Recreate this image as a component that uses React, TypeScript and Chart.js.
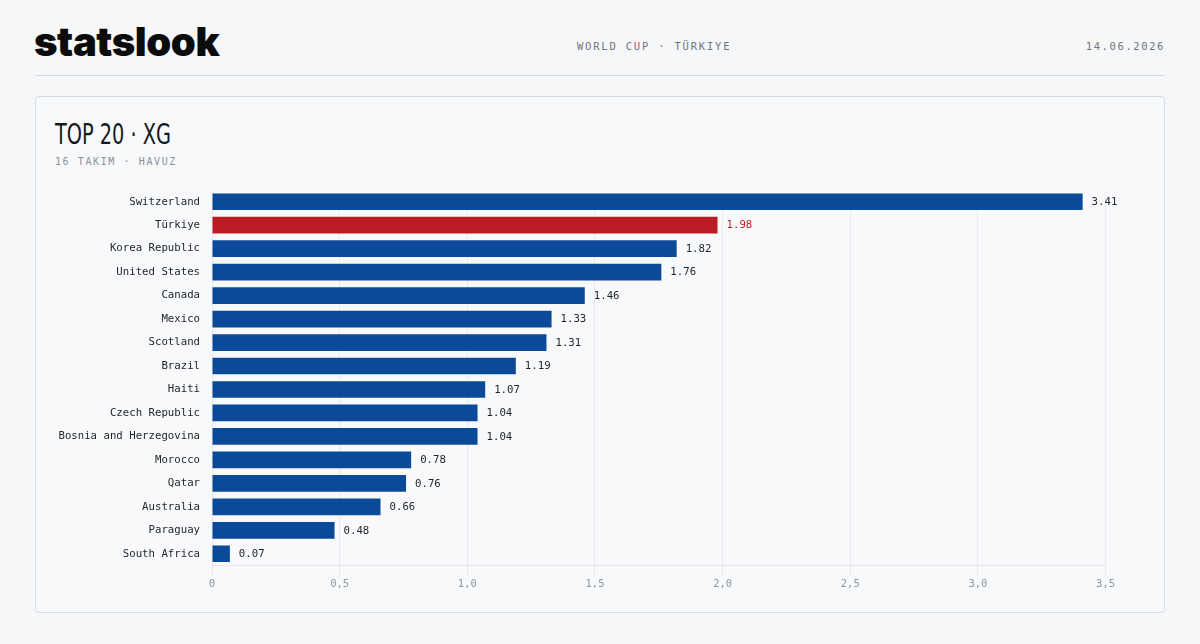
import React, { useEffect, useRef } from "react";
import { Chart, registerables } from "chart.js";

Chart.register(...registerables);

const teams = [
  "Switzerland",
  "Türkiye",
  "Korea Republic",
  "United States",
  "Canada",
  "Mexico",
  "Scotland",
  "Brazil",
  "Haiti",
  "Czech Republic",
  "Bosnia and Herzegovina",
  "Morocco",
  "Qatar",
  "Australia",
  "Paraguay",
  "South Africa",
];
const xgValues = [3.41, 1.98, 1.82, 1.76, 1.46, 1.33, 1.31, 1.19, 1.07, 1.04, 1.04, 0.78, 0.76, 0.66, 0.48, 0.07];
const highlightTeam = "Türkiye";
const xTicks = [0, 0.5, 1, 1.5, 2, 2.5, 3, 3.5];

const BLUE = "#0b4a99";
const RED = "#b91c22";
const MONO = '"DejaVu Sans Mono", "Liberation Mono", monospace';

const valueLabelPlugin = {
  id: "valueLabels",
  afterDatasetsDraw(chart: any) {
    const ctx = chart.ctx;
    const meta = chart.getDatasetMeta(0);
    ctx.save();
    ctx.font = `10.7px ${MONO}`;
    ctx.textBaseline = "middle";
    ctx.textAlign = "left";
    meta.data.forEach((bar: any, i: number) => {
      const v = xgValues[i];
      ctx.fillStyle = teams[i] === highlightTeam ? "#b3262d" : "#1f2328";
      ctx.fillText(v.toFixed(2), bar.x + 9, bar.y + 0.5);
    });
    ctx.restore();
  },
};

function XgChart() {
  const ref = useRef<HTMLCanvasElement | null>(null);
  useEffect(() => {
    if (!ref.current) return;
    const chart = new Chart(ref.current, {
      type: "bar",
      data: {
        labels: teams,
        datasets: [
          {
            data: xgValues,
            backgroundColor: teams.map((t) => (t === highlightTeam ? RED : BLUE)),
            borderWidth: 0,
            barPercentage: 0.71,
            categoryPercentage: 1,
          },
        ],
      },
      options: {
        indexAxis: "y",
        animation: false,
        responsive: false,
        devicePixelRatio: 1,
        layout: { padding: { left: 0, right: 58.4, top: 20, bottom: 0 } },
        plugins: { legend: { display: false }, tooltip: { enabled: false } },
        scales: {
          x: {
            min: 0,
            max: 3.5,
            afterBuildTicks: (scale: any) => {
              scale.ticks = xTicks.map((v) => ({ value: v }));
            },
            afterFit: (scale: any) => {
              scale.height = 44.5;
            },
            grid: {
              color: "#e8eaee",
              lineWidth: 1,
              drawTicks: true,
              tickLength: 10,
              tickColor: "#e8eaee",
            },
            border: { display: true, color: "#e4e6ea" },
            ticks: {
              padding: 2,
              color: "#8f959d",
              font: { family: MONO, size: 10.5 },
              callback: (v: any) => (Number(v) === 0 ? "0" : Number(v).toFixed(1).replace(".", ",")),
            },
          },
          y: {
            afterFit: (scale: any) => {
              scale.width = 176;
            },
            grid: { display: false, drawTicks: false },
            border: { display: false },
            ticks: {
              padding: 12,
              color: "#23272d",
              font: { family: MONO, size: 10.7 },
              autoSkip: false,
            },
          },
        },
      },
      plugins: [valueLabelPlugin],
    });
    return () => chart.destroy();
  }, []);
  return (
    <canvas
      ref={ref}
      width={1128}
      height={440}
      style={{ position: "absolute", left: 36, top: 170, width: 1128, height: 440 }}
    />
  );
}

export default function App() {
  useEffect(() => {
    document.body.style.margin = "0";
    document.body.style.background = "#f6f7f9";
  }, []);
  const headerMeta: React.CSSProperties = {
    position: "absolute",
    top: 39,
    fontFamily: MONO,
    fontSize: 10.5,
    letterSpacing: 1.8,
    color: "#6f757d",
    lineHeight: "14px",
    whiteSpace: "nowrap",
  };
  return (
    <div
      style={{
        position: "absolute",
        left: 0,
        top: 0,
        width: 1200,
        height: 644,
        background: "#f6f7f9",
        overflow: "hidden",
      }}
    >
      <div
        style={{
          position: "absolute",
          left: 34,
          top: 19,
          fontFamily: 'Inter, "Noto Sans", sans-serif',
          fontWeight: 900,
          fontSize: 40,
          letterSpacing: -0.4,
          lineHeight: "46px",
          color: "#0b0b0c",
        }}
      >
        statslook
      </div>
      <div style={{ ...headerMeta, left: 577 }}>WORLD CUP · TÜRKIYE</div>
      <div style={{ ...headerMeta, right: 35, letterSpacing: 1.6 }}>14.06.2026</div>
      <div
        style={{ position: "absolute", left: 35, top: 75, width: 1130, height: 1, background: "#d6d9de" }}
      />
      <div
        style={{
          position: "absolute",
          left: 35,
          top: 96,
          width: 1128,
          height: 515,
          border: "1px solid #d9dce1",
          borderRadius: 4,
          background: "#f8f9fa",
        }}
      />
      <div
        style={{
          position: "absolute",
          left: 55,
          top: 116,
          fontFamily: '"Liberation Sans Narrow", "DejaVu Sans Condensed", "Roboto Condensed", "DejaVu Sans", sans-serif',
          fontSize: 29,
          lineHeight: "36px",
          color: "#15181c",
          whiteSpace: "nowrap",
          transform: "scaleX(0.74)",
          transformOrigin: "0 0",
        }}
      >
        TOP 20 · XG
      </div>
      <div
        style={{
          position: "absolute",
          left: 55,
          top: 155,
          fontFamily: MONO,
          fontSize: 10,
          letterSpacing: 1.6,
          lineHeight: "14px",
          color: "#8a9099",
          whiteSpace: "nowrap",
        }}
      >
        16 TAKIM · HAVUZ
      </div>
      <XgChart />
    </div>
  );
}
